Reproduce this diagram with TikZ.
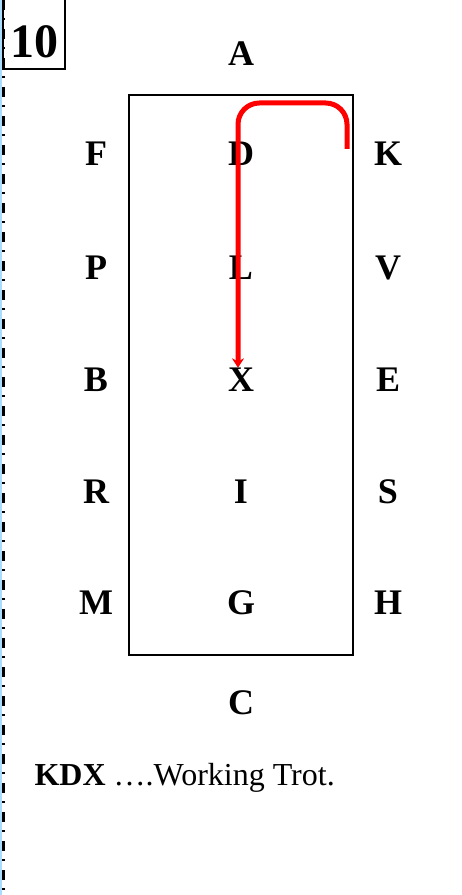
\documentclass[tikz,border=0pt]{standalone}
\usepackage{fontspec}
\setmainfont{Liberation Serif}
\usetikzlibrary{arrows.meta}

\tikzset{every picture/.style={line width=0.75pt}}
\tikzset{
  marker/.style={font=\fontsize{27}{32}\selectfont\bfseries, inner sep=0pt},
  routeline/.style={draw={rgb, 255:red, 255; green, 0; blue, 0 }, line width=3.75pt, rounded corners=16pt, -{Stealth[length=7pt,width=9pt]}},
}

\begin{document}
\begin{tikzpicture}[x=0.75pt,y=0.75pt,yscale=-1,xscale=1]
\path[use as bounding box] (0,0) rectangle (461,895);

%Straight Lines: page margin
\draw [color={rgb, 255:red, 170; green, 220; blue, 255 }, line width=1.5pt] (1,0) -- (1,895) ;
\draw [line width=2.25pt, dash pattern={on 7.5pt off 6pt on 1.5pt off 6.75pt}] (3,0) -- (3,895) ;

%Shape: Rectangle [id:number box]
\draw [line width=1.5pt] (3,-5) rectangle (65,69) ;
\node [font=\fontsize{36}{40}\selectfont\bfseries, inner sep=0pt] (num) at (34,42) {10};

%Shape: Rectangle [id:arena]
\draw [line width=1.5pt] (129,95) rectangle (353,655) ;

%Markers
\node [marker] (A) at (241,54) {A};
\node [marker] (F) at (96,154) {F};
\node [marker] (D) at (241,154) {D};
\node [marker] (K) at (388,154) {K};
\node [marker] (P) at (96,268) {P};
\node [marker] (L) at (241,268) {L};
\node [marker] (V) at (388,268) {V};
\node [marker] (B) at (96,380) {B};
\node [marker] (X) at (241,380) {X};
\node [marker] (E) at (388,380) {E};
\node [marker] (R) at (96,492) {R};
\node [marker] (I) at (241,492) {I};
\node [marker] (S) at (388,492) {S};
\node [marker] (M) at (96,603) {M};
\node [marker] (G) at (241,603) {G};
\node [marker] (H) at (388,603) {H};
\node [marker] (C) at (241,703) {C};

%Route: K - D - X
\coordinate (startK) at (347,149);
\coordinate (turnK) at (347,103);
\coordinate (turnD) at (238,103);
\draw [routeline] (startK) -- (turnK) -- (turnD) -- (turnD |- X.north) ;

%Caption
\node [anchor=base west, inner sep=0pt, font=\fontsize{24}{29}\selectfont] (caption) at (34,785) {\textbf{KDX} \ldots.Working Trot.};

\end{tikzpicture}
\end{document}
